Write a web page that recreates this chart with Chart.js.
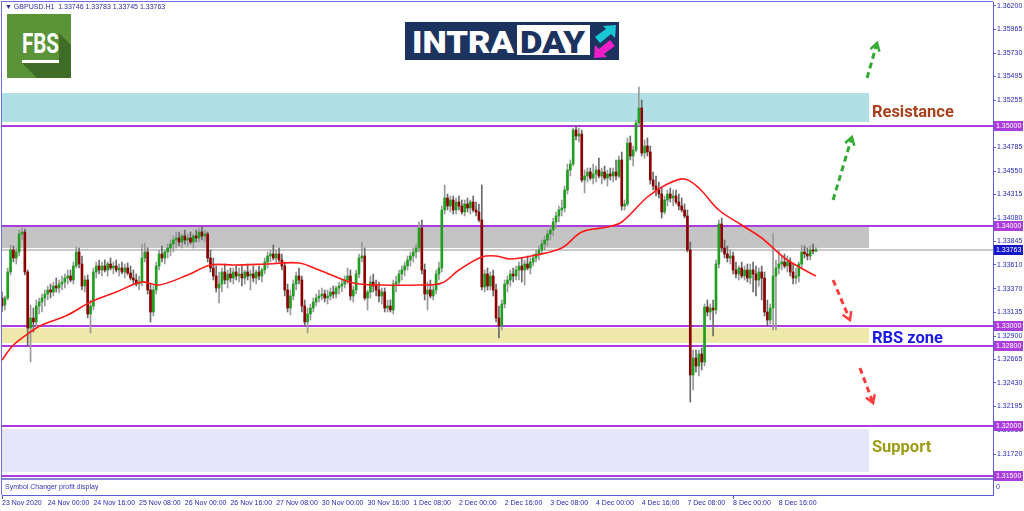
<!DOCTYPE html>
<html>
<head>
<meta charset="utf-8">
<title>GBPUSD H1 Intraday</title>
<script src="https://cdn.jsdelivr.net/npm/chart.js@4/dist/chart.umd.min.js"></script>
<style>
html,body{margin:0;padding:0;background:#fff;overflow:hidden;}
#wrap{position:relative;width:1024px;height:511px;}
#c{position:absolute;left:0;top:0;}
.ov{position:absolute;}
#hdr{left:5px;top:2px;font-family:'Liberation Sans',Arial,sans-serif;font-size:7px;color:#2b2ba6;white-space:pre;line-height:10px;}
#sub{left:5px;top:482px;font-family:'Liberation Sans',Arial,sans-serif;font-size:7px;color:#3535b0;white-space:pre;line-height:10px;}
#sub0{left:996px;top:482px;font-family:'Liberation Sans',Arial,sans-serif;font-size:7px;color:#3535b0;line-height:10px;}
</style>
</head>
<body>
<div id="wrap">
<canvas id="c" width="1024" height="511"></canvas>
<div id="hdr" class="ov">▼ GBPUSD.H1  1.33746 1.33783 1.33745 1.33763</div>
<div id="sub" class="ov">Symbol Changer profit display</div>
<div id="sub0" class="ov">0</div>
<svg class="ov" style="left:7px;top:14px" width="64" height="64">
  <rect width="64" height="64" fill="#5b9338"/>
  <polygon points="52,19 64,31 64,64 30,64 15,49 52,49" fill="#3f6c27"/>
  <text x="15" y="39" fill="#ffffff" font-family="Roboto, 'DejaVu Sans'" font-weight="bold" font-size="27" textLength="37" lengthAdjust="spacingAndGlyphs">FBS</text>
  <rect x="15" y="46" width="37" height="3" fill="#ffffff"/>
</svg>
<svg class="ov" style="left:405px;top:22px" width="214" height="38">
  <rect width="214" height="38" fill="#1c3360"/>
  <text x="7" y="31" fill="#ffffff" font-family="Roboto, 'DejaVu Sans'" font-weight="900" font-size="31" textLength="102" lengthAdjust="spacingAndGlyphs">INTRA</text>
  <rect x="112" y="3" width="73" height="30" fill="#ffffff"/>
  <text x="115" y="31" fill="#1c3360" font-family="Roboto, 'DejaVu Sans'" font-weight="900" font-size="31" textLength="65" lengthAdjust="spacingAndGlyphs">DAY</text>
  <polygon points="190,15 201,7 198,4 211,3 210,16 206,12 195,21" fill="#19c6d6"/>
  <polygon points="210,24 199,32 202,35 189,36 190,23 194,27 205,18" fill="#f01ec8"/>
</svg>
</div>
<script>
// ---------- data ----------
const slotCount = 348;
const tickIndex = [0,16,32,48,64,80,96,112,128,144,160,176,192,208,224,240,256,272];
const tickText = ['23 Nov 2020','24 Nov 00:00','24 Nov 16:00','25 Nov 08:00','26 Nov 00:00','26 Nov 16:00','27 Nov 08:00','30 Nov 00:00','30 Nov 16:00','1 Dec 08:00','2 Dec 00:00','2 Dec 16:00','3 Dec 08:00','4 Dec 00:00','4 Dec 16:00','7 Dec 08:00','8 Dec 00:00','8 Dec 16:00'];
const priceTicks = [1.362,1.35965,1.3573,1.35495,1.35255,1.34785,1.3455,1.34315,1.3408,1.33845,1.3361,1.3337,1.33135,1.329,1.32665,1.3243,1.32195,1.3196,1.3172];
const levelLines = [1.35,1.34,1.33,1.328,1.32,1.315];
const lastPrice = 1.33763;
const zoneTop = [1.3533,1.3399,1.3298,1.3197];
const zoneBottom = [1.3504,1.3378,1.3283,1.3154];
const zoneEndIndex = 303.6;
const zoneLabel = ['Resistance','RBS zone','Support'];
const zoneLabelPrice = [1.3513,1.3287,1.3178];
const zoneLabelIndex = 304.6;
const arrowFromIndex = [291,302.9,291,300.4];
const arrowFromPrice = [1.3426,1.3548,1.3346,1.3258];
const arrowToIndex = [297.6,306.4,296.9,305];
const arrowToPrice = [1.3489,1.3583,1.3306,1.3223];
const arrowKind = ['up','up','down','down'];

const opens = [
1.3328,1.3321,1.3328,1.3354,1.3376,1.3368,1.3374,1.3392,1.3394,1.3354,
1.3298,1.3308,1.3304,1.3320,1.3324,1.3328,1.3332,1.3336,1.3334,1.3340,
1.3338,1.3342,1.3344,1.3348,1.3350,1.3346,1.3360,1.3374,1.3362,1.3340,
1.3346,1.3312,1.3320,1.3354,1.3360,1.3356,1.3360,1.3356,1.3362,1.3358,
1.3360,1.3356,1.3358,1.3354,1.3358,1.3353,1.3348,1.3346,1.3342,1.3344,
1.3368,1.3374,1.3336,1.3314,1.3336,1.3360,1.3372,1.3368,1.3374,1.3378,
1.3382,1.3386,1.3388,1.3384,1.3390,1.3386,1.3388,1.3384,1.3390,1.3388,
1.3394,1.3390,1.3392,1.3368,1.3358,1.3350,1.3338,1.3342,1.3354,1.3346,
1.3352,1.3348,1.3354,1.3350,1.3352,1.3348,1.3354,1.3350,1.3352,1.3348,
1.3354,1.3350,1.3356,1.3364,1.3370,1.3372,1.3368,1.3372,1.3366,1.3360,
1.3336,1.3318,1.3330,1.3342,1.3350,1.3346,1.3320,1.3304,1.3312,1.3318,
1.3324,1.3328,1.3330,1.3332,1.3328,1.3330,1.3334,1.3332,1.3338,1.3340,
1.3342,1.3346,1.3350,1.3330,1.3336,1.3352,1.3368,1.3370,1.3328,1.3334,
1.3344,1.3340,1.3336,1.3330,1.3334,1.3318,1.3320,1.3316,1.3342,1.3344,
1.3352,1.3356,1.3360,1.3366,1.3370,1.3374,1.3378,1.3398,1.3356,1.3332,
1.3336,1.3330,1.3336,1.3352,1.3358,1.3416,1.3428,1.3420,1.3426,1.3416,
1.3424,1.3420,1.3414,1.3422,1.3418,1.3424,1.3416,1.3414,1.3406,1.3339,
1.3352,1.3340,1.3350,1.3336,1.3308,1.3300,1.3322,1.3342,1.3346,1.3352,
1.3350,1.3356,1.3360,1.3356,1.3362,1.3358,1.3364,1.3368,1.3372,1.3376,
1.3382,1.3386,1.3392,1.3396,1.3404,1.3410,1.3416,1.3418,1.3436,1.3456,
1.3462,1.3496,1.3490,1.3492,1.3446,1.3450,1.3454,1.3448,1.3452,1.3456,
1.3450,1.3454,1.3448,1.3452,1.3450,1.3454,1.3450,1.3466,1.3420,1.3422,
1.3483,1.3470,1.3476,1.3503,1.3518,1.3473,1.3480,1.3474,1.3446,1.3440,
1.3436,1.3432,1.3414,1.3426,1.3432,1.3428,1.3430,1.3424,1.3420,1.3416,
1.3410,1.3376,1.3251,1.3268,1.3260,1.3272,1.3264,1.3319,1.3314,1.3318,
1.3316,1.3362,1.3402,1.3378,1.3372,1.3368,1.3370,1.3356,1.3352,1.3358,
1.3350,1.3356,1.3348,1.3356,1.3352,1.3346,1.3354,1.3348,1.3314,1.3306,
1.3318,1.3350,1.3358,1.3362,1.3364,1.3360,1.3364,1.3354,1.3348,1.3350,
1.3362,1.3374,1.3372,1.3370,1.3376,1.33746];

const highs = [
1.3334,1.3330,1.3358,1.3381,1.3380,1.3378,1.3396,1.3398,1.3397,1.3356,
1.3321,1.3318,1.3326,1.3328,1.3332,1.3336,1.3340,1.3342,1.3344,1.3348,
1.3346,1.3350,1.3352,1.3356,1.3356,1.3364,1.3379,1.3378,1.3370,1.3350,
1.3351,1.3326,1.3358,1.3364,1.3366,1.3364,1.3366,1.3364,1.3368,1.3364,
1.3366,1.3362,1.3364,1.3362,1.3363,1.3360,1.3356,1.3352,1.3350,1.3382,
1.3383,1.3378,1.3342,1.3340,1.3364,1.3376,1.3380,1.3376,1.3382,1.3386,
1.3390,1.3394,1.3394,1.3392,1.3396,1.3392,1.3394,1.3392,1.3396,1.3398,
1.3399,1.3396,1.3394,1.3376,1.3368,1.3360,1.3354,1.3358,1.3362,1.3356,
1.3358,1.3358,1.3360,1.3358,1.3360,1.3356,1.3362,1.3356,1.3360,1.3356,
1.3360,1.3358,1.3368,1.3374,1.3376,1.3381,1.3376,1.3378,1.3372,1.3364,
1.3342,1.3336,1.3346,1.3354,1.3358,1.3350,1.3326,1.3318,1.3322,1.3328,
1.3332,1.3336,1.3338,1.3336,1.3336,1.3338,1.3340,1.3340,1.3344,1.3346,
1.3350,1.3358,1.3356,1.3340,1.3356,1.3372,1.3384,1.3378,1.3336,1.3350,
1.3352,1.3346,1.3344,1.3338,1.3338,1.3326,1.3326,1.3346,1.3350,1.3356,
1.3360,1.3364,1.3370,1.3374,1.3378,1.3382,1.3404,1.3406,1.3362,1.3344,
1.3346,1.3340,1.3356,1.3364,1.3420,1.3441,1.3432,1.3430,1.3430,1.3428,
1.3430,1.3426,1.3426,1.3428,1.3426,1.3430,1.3424,1.3422,1.3441,1.3356,
1.3358,1.3354,1.3356,1.3342,1.3320,1.3326,1.3346,1.3350,1.3356,1.3358,
1.3360,1.3364,1.3368,1.3366,1.3370,1.3368,1.3372,1.3376,1.3380,1.3386,
1.3390,1.3396,1.3400,1.3408,1.3414,1.3420,1.3426,1.3440,1.3462,1.3466,
1.3498,1.3500,1.3498,1.3496,1.3456,1.3458,1.3458,1.3462,1.3460,1.3468,
1.3458,1.3460,1.3456,1.3458,1.3458,1.3466,1.3470,1.3474,1.3426,1.3488,
1.3490,1.3480,1.3506,1.3539,1.3526,1.3486,1.3488,1.3480,1.3454,1.3450,
1.3444,1.3438,1.3430,1.3436,1.3438,1.3436,1.3436,1.3432,1.3428,1.3422,
1.3416,1.3384,1.3276,1.3276,1.3276,1.3278,1.3322,1.3326,1.3322,1.3326,
1.3366,1.3406,1.3408,1.3386,1.3380,1.3376,1.3374,1.3364,1.3360,1.3364,
1.3360,1.3362,1.3362,1.3364,1.3360,1.3358,1.3360,1.3354,1.3326,1.3322,
1.3393,1.3366,1.3376,1.3370,1.3372,1.3370,1.3368,1.3362,1.3358,1.3364,
1.3381,1.3380,1.3378,1.3380,1.3382,1.33783];

const lows = [
1.3314,1.3316,1.3326,1.3351,1.3364,1.3362,1.3370,1.3386,1.3351,1.3281,
1.3264,1.3294,1.3298,1.3312,1.3314,1.3320,1.3326,1.3328,1.3330,1.3334,
1.3333,1.3336,1.3338,1.3342,1.3344,1.3342,1.3358,1.3358,1.3336,1.3334,
1.3308,1.3293,1.3316,1.3348,1.3352,1.3350,1.3354,1.3350,1.3356,1.3352,
1.3354,1.3350,1.3352,1.3348,1.3351,1.3346,1.3342,1.3340,1.3336,1.3340,
1.3364,1.3332,1.3304,1.3310,1.3332,1.3356,1.3364,1.3362,1.3368,1.3370,
1.3374,1.3378,1.3380,1.3378,1.3382,1.3380,1.3382,1.3378,1.3384,1.3384,
1.3386,1.3384,1.3364,1.3354,1.3346,1.3334,1.3323,1.3334,1.3342,1.3338,
1.3344,1.3342,1.3346,1.3344,1.3340,1.3342,1.3346,1.3336,1.3344,1.3342,
1.3346,1.3344,1.3352,1.3358,1.3364,1.3366,1.3362,1.3364,1.3356,1.3330,
1.3314,1.3311,1.3326,1.3336,1.3342,1.3314,1.3300,1.3293,1.3306,1.3314,
1.3320,1.3324,1.3326,1.3324,1.3322,1.3326,1.3328,1.3328,1.3332,1.3334,
1.3338,1.3342,1.3326,1.3324,1.3332,1.3348,1.3364,1.3326,1.3316,1.3328,
1.3334,1.3330,1.3324,1.3322,1.3314,1.3314,1.3314,1.3312,1.3334,1.3340,
1.3346,1.3350,1.3356,1.3360,1.3364,1.3368,1.3374,1.3352,1.3326,1.3316,
1.3328,1.3326,1.3332,1.3346,1.3354,1.3412,1.3416,1.3414,1.3412,1.3412,
1.3416,1.3412,1.3410,1.3414,1.3412,1.3414,1.3410,1.3404,1.3336,1.3334,
1.3336,1.3336,1.3330,1.3304,1.3288,1.3296,1.3318,1.3334,1.3340,1.3344,
1.3346,1.3346,1.3344,1.3341,1.3356,1.3352,1.3360,1.3364,1.3366,1.3372,
1.3376,1.3380,1.3386,1.3390,1.3398,1.3404,1.3410,1.3414,1.3432,1.3450,
1.3460,1.3486,1.3484,1.3444,1.3433,1.3444,1.3446,1.3442,1.3444,1.3448,
1.3442,1.3446,1.3440,1.3446,1.3444,1.3446,1.3448,1.3416,1.3416,1.3420,
1.3466,1.3460,1.3474,1.3500,1.3470,1.3468,1.3470,1.3442,1.3436,1.3430,
1.3428,1.3408,1.3412,1.3420,1.3424,1.3420,1.3422,1.3416,1.3414,1.3408,
1.3374,1.3224,1.3236,1.3254,1.3250,1.3256,1.3260,1.3310,1.3306,1.3290,
1.3312,1.3358,1.3374,1.3368,1.3364,1.3362,1.3352,1.3348,1.3346,1.3348,
1.3346,1.3344,1.3342,1.3334,1.3330,1.3340,1.3326,1.3310,1.3300,1.3302,
1.3296,1.3296,1.3352,1.3356,1.3358,1.3354,1.3350,1.3342,1.3342,1.3344,
1.3358,1.3368,1.3366,1.3366,1.3372,1.33745];

const closes = [
1.3320,1.3328,1.3354,1.3376,1.3368,1.3374,1.3392,1.3394,1.3354,1.3298,
1.3308,1.3304,1.3320,1.3324,1.3328,1.3332,1.3336,1.3334,1.3340,1.3338,
1.3342,1.3344,1.3348,1.3350,1.3346,1.3360,1.3374,1.3362,1.3340,1.3346,
1.3312,1.3320,1.3354,1.3360,1.3356,1.3360,1.3356,1.3362,1.3358,1.3360,
1.3356,1.3358,1.3354,1.3358,1.3353,1.3348,1.3346,1.3342,1.3344,1.3368,
1.3374,1.3336,1.3314,1.3336,1.3360,1.3372,1.3368,1.3374,1.3378,1.3382,
1.3386,1.3388,1.3384,1.3390,1.3386,1.3388,1.3384,1.3390,1.3388,1.3394,
1.3390,1.3392,1.3368,1.3358,1.3350,1.3338,1.3342,1.3354,1.3346,1.3352,
1.3348,1.3354,1.3350,1.3352,1.3348,1.3354,1.3350,1.3352,1.3348,1.3354,
1.3350,1.3356,1.3364,1.3370,1.3372,1.3368,1.3372,1.3366,1.3360,1.3336,
1.3318,1.3330,1.3342,1.3350,1.3346,1.3320,1.3304,1.3312,1.3318,1.3324,
1.3328,1.3330,1.3332,1.3328,1.3330,1.3334,1.3332,1.3338,1.3340,1.3342,
1.3346,1.3350,1.3330,1.3336,1.3352,1.3368,1.3370,1.3328,1.3334,1.3344,
1.3340,1.3336,1.3330,1.3334,1.3318,1.3320,1.3316,1.3342,1.3344,1.3352,
1.3356,1.3360,1.3366,1.3370,1.3374,1.3378,1.3398,1.3356,1.3332,1.3336,
1.3330,1.3336,1.3352,1.3358,1.3416,1.3428,1.3420,1.3426,1.3416,1.3424,
1.3420,1.3414,1.3422,1.3418,1.3424,1.3416,1.3414,1.3406,1.3339,1.3352,
1.3340,1.3350,1.3336,1.3308,1.3300,1.3322,1.3342,1.3346,1.3352,1.3350,
1.3356,1.3360,1.3356,1.3362,1.3358,1.3364,1.3368,1.3372,1.3376,1.3382,
1.3386,1.3392,1.3396,1.3404,1.3410,1.3416,1.3418,1.3436,1.3456,1.3462,
1.3496,1.3490,1.3492,1.3446,1.3450,1.3454,1.3448,1.3452,1.3456,1.3450,
1.3454,1.3448,1.3452,1.3450,1.3454,1.3450,1.3466,1.3420,1.3422,1.3483,
1.3470,1.3476,1.3503,1.3518,1.3473,1.3480,1.3474,1.3446,1.3440,1.3436,
1.3432,1.3414,1.3426,1.3432,1.3428,1.3430,1.3424,1.3420,1.3416,1.3410,
1.3376,1.3251,1.3268,1.3260,1.3272,1.3264,1.3319,1.3314,1.3318,1.3316,
1.3362,1.3402,1.3378,1.3372,1.3368,1.3370,1.3356,1.3352,1.3358,1.3350,
1.3356,1.3348,1.3356,1.3352,1.3346,1.3354,1.3348,1.3314,1.3306,1.3318,
1.3350,1.3358,1.3362,1.3364,1.3360,1.3364,1.3354,1.3348,1.3350,1.3362,
1.3374,1.3372,1.3370,1.3376,1.3375,1.33763];

const maIndex = [0,4,11,14,23,31,40,49,55,65,73,81,93,104,111,123,133,146,154,160,168,173,178,187,196,203,212,217,226,233,239,244,251,259,266,274,281,285];
const maValue = [1.3266,1.3281,1.3296,1.3301,1.3311,1.3324,1.3334,1.3344,1.3341,1.3351,1.3361,1.3361,1.3362,1.3363,1.3356,1.3343,1.3341,1.3341,1.3343,1.3356,1.3369,1.3370,1.3367,1.3371,1.3378,1.3394,1.3399,1.3404,1.3429,1.3442,1.3447,1.3438,1.3416,1.3401,1.3388,1.3368,1.3356,1.3350];

// ---------- styles ----------
const S = {
  axis: '#5c5cd6', text: '#2828b4', frame: '#6e6ee0',
  up: '#1f9e1f', down: '#8b0000', wickUp: '#9a9a9a', wickDown: '#6a6a6a',
  ma: '#ff1a1a', level: '#aa3cdc', priceLine: '#c8c8c8', priceBox: '#1414c8',
  zoneFill: ['#b0e0e6','#c4c4c4','#eee8aa','#e6e6fa'],
  labelColor: ['#a8401c','#1a1ae6','#9c9c14'],
  arrowUp: '#33aa33', arrowDown: '#ff3b3b',
  small: "'Liberation Sans',Arial,sans-serif"
};

// ---------- tables built from the arrays ----------
const slotLabels = Array.from({length: slotCount}, (_, i) => String(i));
const wickData = lows.map((l, i) => [l, highs[i]]);
const bodyData = opens.map((o, i) => [o, closes[i]]);
const bodyColors = opens.map((o, i) => closes[i] >= o ? S.up : S.down);
const wickColors = opens.map((o, i) => closes[i] >= o ? S.wickUp : S.wickDown);
const maData = new Array(slotCount).fill(null);
maIndex.forEach((ix, k) => { maData[ix] = maValue[k]; });

const overlay = {
  id: 'overlay',
  beforeDatasetsDraw(chart) {
    const {ctx, chartArea: a, scales: {x, y}} = chart;
    ctx.save();
    const xr = x.getPixelForValue(zoneEndIndex);
    for (let k = 0; k < zoneTop.length; k++) {
      const t = y.getPixelForValue(zoneTop[k]), b = y.getPixelForValue(zoneBottom[k]);
      ctx.fillStyle = S.zoneFill[k];
      ctx.fillRect(a.left, t, xr - a.left, b - t);
    }
    const pp = Math.round(y.getPixelForValue(lastPrice));
    ctx.fillStyle = S.priceLine;
    ctx.fillRect(a.left, pp - 1, a.right - a.left, 2);
    ctx.fillStyle = S.level;
    levelLines.forEach(v => {
      const py = Math.round(y.getPixelForValue(v));
      ctx.fillRect(a.left, py - 1, a.right - a.left, 2);
    });
    ctx.restore();
  },
  afterDatasetsDraw(chart) {
    const {ctx, scales: {x, y}} = chart;
    ctx.save();
    for (let k = 0; k < arrowFromIndex.length; k++) {
      const x1 = x.getPixelForValue(arrowFromIndex[k]), y1 = y.getPixelForValue(arrowFromPrice[k]);
      const x2 = x.getPixelForValue(arrowToIndex[k]), y2 = y.getPixelForValue(arrowToPrice[k]);
      const col = arrowKind[k] === 'up' ? S.arrowUp : S.arrowDown;
      const ang = Math.atan2(y2 - y1, x2 - x1);
      ctx.strokeStyle = col; ctx.lineWidth = 3; ctx.lineCap = 'butt';
      ctx.setLineDash([6, 4]);
      ctx.beginPath(); ctx.moveTo(x1, y1);
      ctx.lineTo(x2 - 3 * Math.cos(ang), y2 - 3 * Math.sin(ang)); ctx.stroke();
      ctx.setLineDash([]);
      ctx.lineWidth = 2.5;
      ctx.beginPath();
      ctx.moveTo(x2 - 9 * Math.cos(ang - 0.55), y2 - 9 * Math.sin(ang - 0.55));
      ctx.lineTo(x2, y2);
      ctx.lineTo(x2 - 9 * Math.cos(ang + 0.55), y2 - 9 * Math.sin(ang + 0.55));
      ctx.stroke();
    }
    ctx.font = "bold 16.5px Roboto, 'DejaVu Sans', sans-serif";
    ctx.textBaseline = 'middle'; ctx.textAlign = 'left';
    const lx = x.getPixelForValue(zoneLabelIndex);
    zoneLabel.forEach((t, k) => {
      ctx.fillStyle = S.labelColor[k];
      ctx.fillText(t, lx, y.getPixelForValue(zoneLabelPrice[k]));
    });
    ctx.restore();
  },
  afterDraw(chart) {
    const {ctx, chartArea: a, scales: {y}} = chart;
    ctx.save();
    ctx.fillStyle = '#ffffff';
    ctx.fillRect(a.left, a.bottom - 17, a.right - a.left, 17);
    ctx.fillStyle = '#8585d5';
    ctx.fillRect(a.left, a.bottom - 17, a.right - a.left, 2);
    ctx.fillStyle = S.frame;
    ctx.fillRect(a.left - 1, a.top - 1, a.right - a.left + 1, 1);
    ctx.fillRect(a.left - 1, a.top - 1, 1, a.bottom - a.top + 1);
    ctx.font = '7px ' + S.small;
    ctx.textBaseline = 'middle'; ctx.textAlign = 'left';
    const boxVals = levelLines.concat([lastPrice]);
    boxVals.forEach((v, k) => {
      const py = Math.round(y.getPixelForValue(v));
      ctx.fillStyle = k < levelLines.length ? S.level : S.priceBox;
      ctx.fillRect(a.right + 1, py - 5, 29, 10);
      ctx.fillStyle = '#ffffff';
      ctx.fillText(v.toFixed(5), a.right + 3, py + 0.5);
    });
    ctx.restore();
  }
};

Chart.defaults.font.family = S.small;
new Chart(document.getElementById('c'), {
  type: 'bar',
  data: {
    labels: slotLabels,
    datasets: [
      { type: 'line', data: maData, borderColor: S.ma, borderWidth: 1.6, pointRadius: 0, spanGaps: true, tension: 0.35, order: 1 },
      { data: bodyData, backgroundColor: bodyColors, barThickness: 2, minBarLength: 1, grouped: false, order: 2 },
      { data: wickData, backgroundColor: wickColors, barThickness: 1, grouped: false, order: 3 }
    ]
  },
  options: {
    responsive: false, animation: false,
    layout: { padding: { left: 2, top: 2, right: 0, bottom: 0 } },
    plugins: { legend: { display: false }, tooltip: { enabled: false } },
    scales: {
      x: {
        type: 'category', offset: false,
        afterFit(s) { s.height = 16; s.paddingLeft = 0; s.paddingRight = 0; },
        grid: { offset: false, drawOnChartArea: false, drawTicks: true, tickLength: 4,
                color: c => tickIndex.includes(c.index) ? S.axis : 'rgba(0,0,0,0)' },
        border: { color: S.axis },
        ticks: { autoSkip: false, maxRotation: 0, minRotation: 0, align: 'start', padding: 0,
                 font: { size: 7 }, color: S.text,
                 callback: (v, i) => { const k = tickIndex.indexOf(i); return k < 0 ? null : tickText[k]; } }
      },
      y: {
        position: 'right', min: 1.3131, max: 1.3624,
        afterFit(s) { s.width = 31; s.paddingTop = 0; s.paddingBottom = 0; },
        afterBuildTicks(s) { s.ticks = priceTicks.map(v => ({ value: v })); },
        grid: { drawOnChartArea: false, drawTicks: true, tickLength: 3, color: S.axis },
        border: { color: S.axis },
        ticks: { autoSkip: false, padding: 1, font: { size: 7 }, color: S.text, callback: v => v.toFixed(5) }
      }
    }
  },
  plugins: [overlay]
});
</script>
</body>
</html>
